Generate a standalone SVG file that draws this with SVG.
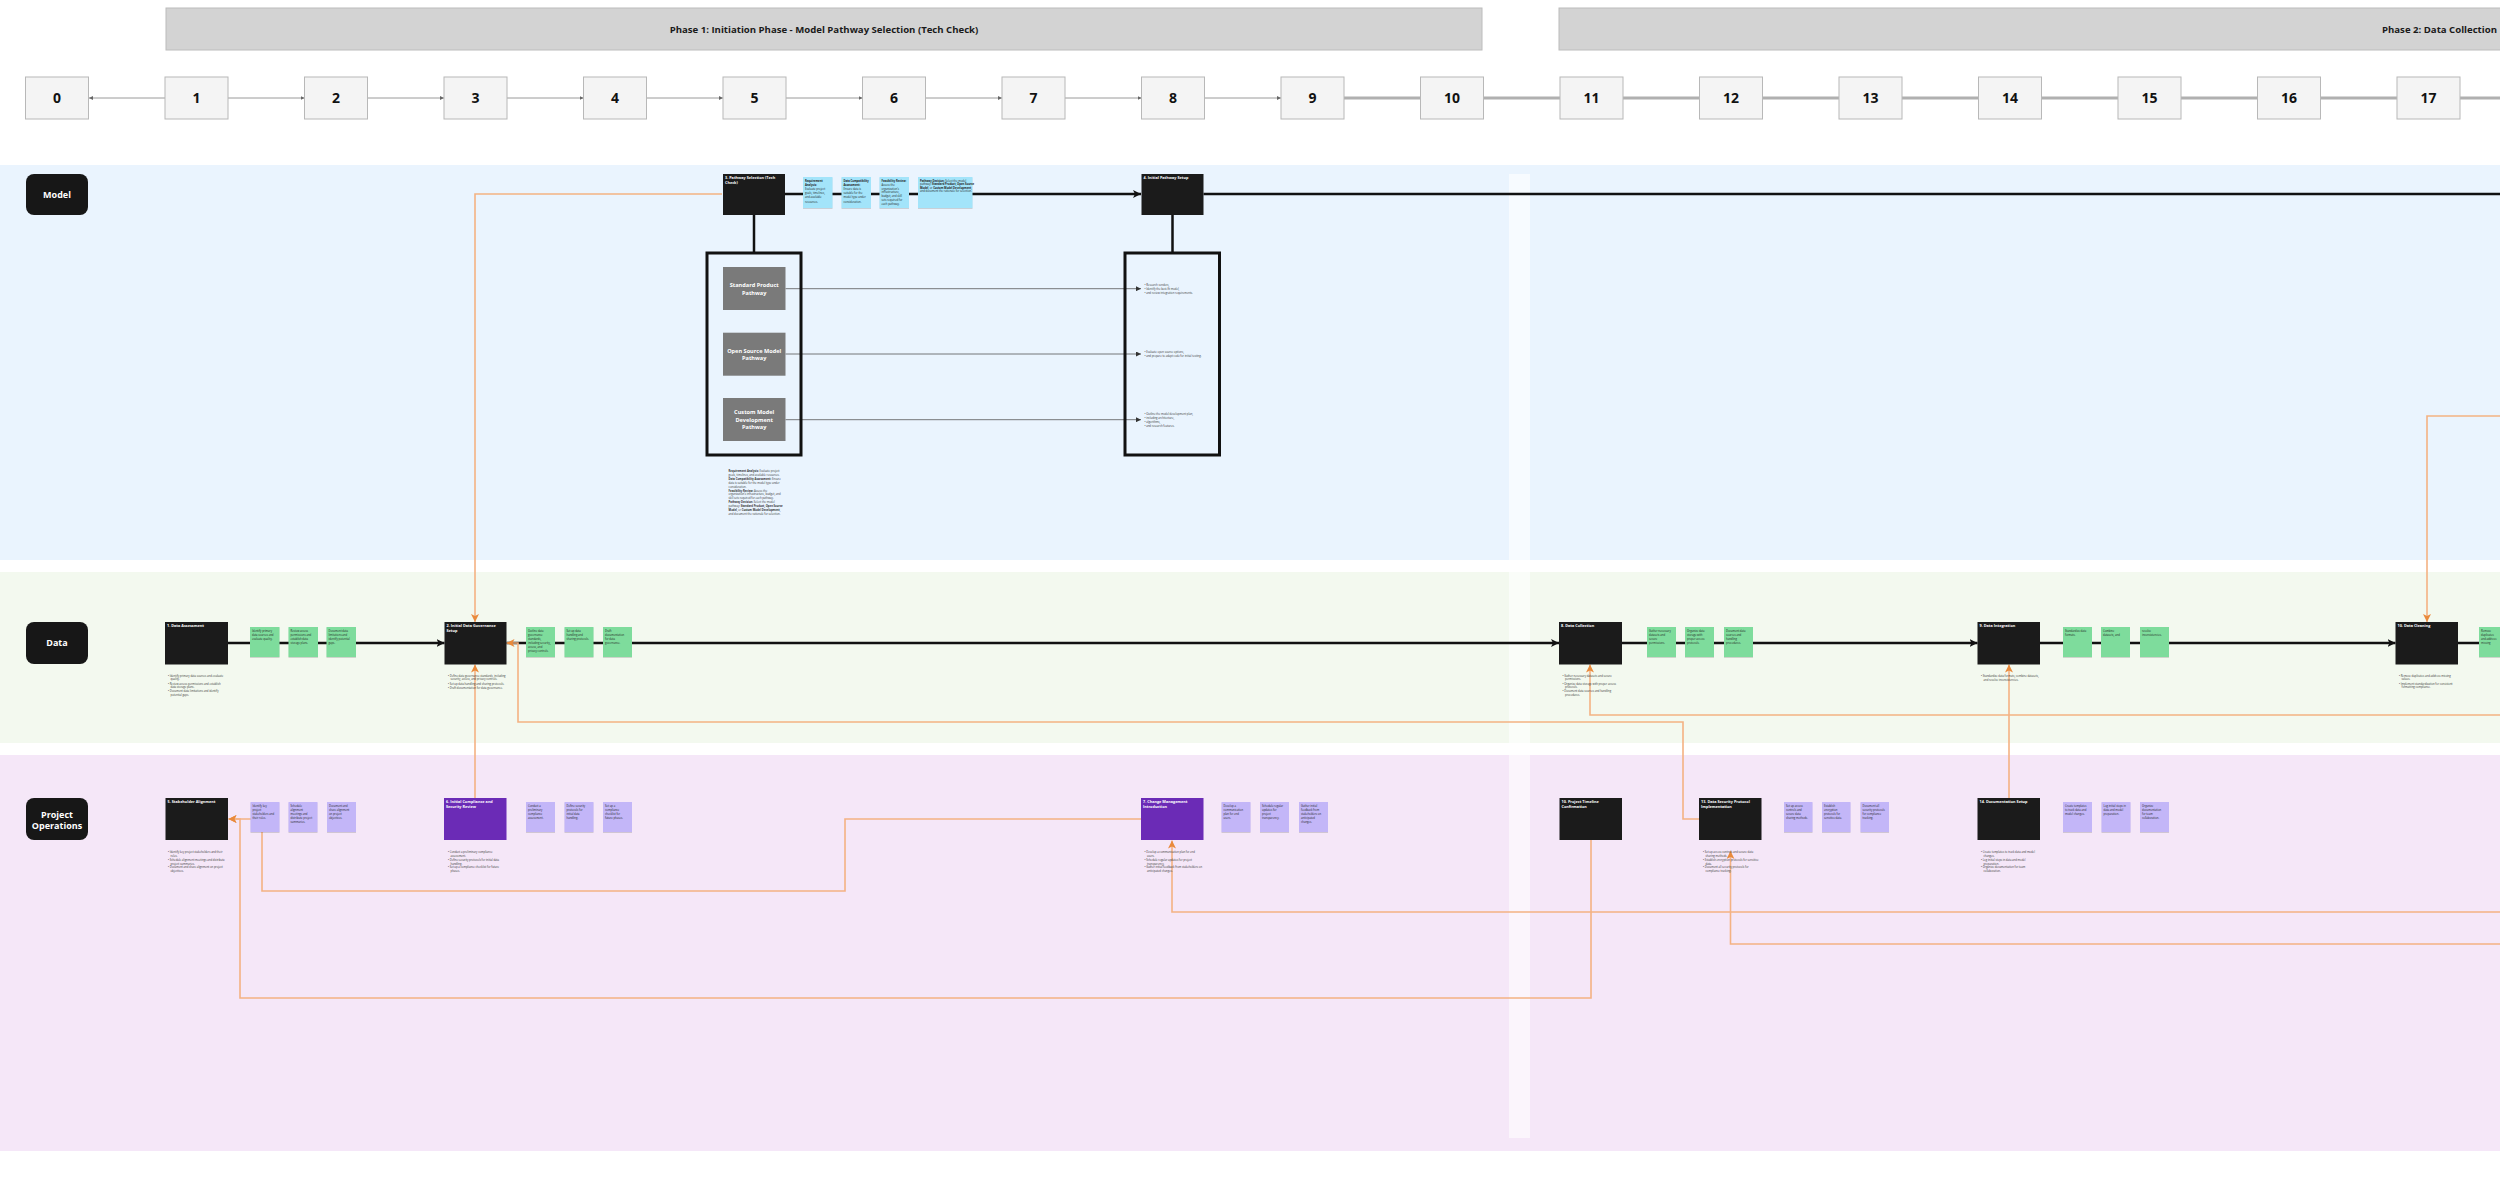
<svg xmlns="http://www.w3.org/2000/svg" width="2500" height="1184" viewBox="0 0 2500 1184">
<style>
text{font-family:'Open Sans','Liberation Sans',sans-serif}
.hdr{fill:#d3d3d3;stroke:#bcbcbc;stroke-width:1}
.ht{font-weight:700;font-size:9.6px;fill:#1a1a1a}
.nb{fill:#f4f4f4;stroke:#b8b8b8;stroke-width:1}
.nt{font-weight:700;font-size:14px;fill:#111;text-anchor:middle}
.lbl{fill:#171717}
.lt{font-weight:700;font-size:9px;fill:#fff;text-anchor:middle}
.n{fill:#1b1b1b}
.np{fill:#6b2bb6}
.tt{font-weight:700;font-size:3.8px;fill:#fff}
.sg{fill:#7edc9c;filter:url(#sh)}
.sb{fill:#a3e4fa;filter:url(#sh)}
.sp{fill:#c3b6f8;filter:url(#sh)}
.st{font-size:2.7px;fill:#222}
.bu{font-size:2.7px;fill:#333}
.b{font-weight:700}
.gp{fill:#7a7a7a}
.gt{font-weight:700;font-size:5.6px;fill:#fff;text-anchor:middle}
.thick{stroke:#111;stroke-width:2.5;fill:none}
.or{stroke:#f4b283;stroke-width:1.6;fill:none}
.thin{stroke:#9a9a9a;stroke-width:1;fill:none}
.tg{stroke:#b0b0b0;stroke-width:3;fill:none}
.pl{stroke:#555;stroke-width:0.8;fill:none}
.frame{fill:none;stroke:#111;stroke-width:3}
</style>
<defs>
<filter id="sh" x="-10%" y="-10%" width="120%" height="130%"><feDropShadow dx="0" dy="1" stdDeviation="0.7" flood-color="#000" flood-opacity="0.15"/></filter>
<marker id="ab" viewBox="0 0 10 10" refX="10" refY="5" markerWidth="8" markerHeight="8" markerUnits="userSpaceOnUse" orient="auto"><path d="M0,0 L10,5 L0,10 L2.5,5 z" fill="#111"/></marker>
<marker id="ao" viewBox="0 0 10 10" refX="10" refY="5" markerWidth="8" markerHeight="8" markerUnits="userSpaceOnUse" orient="auto"><path d="M0,0 L10,5 L0,10 L2.5,5 z" fill="#e98a3c"/></marker>
<marker id="ag" viewBox="0 0 10 10" refX="10" refY="5" markerWidth="4" markerHeight="4" markerUnits="userSpaceOnUse" orient="auto"><path d="M0,0 L10,5 L0,10 z" fill="#666"/></marker>
<marker id="ad" viewBox="0 0 10 10" refX="10" refY="5" markerWidth="5" markerHeight="5" markerUnits="userSpaceOnUse" orient="auto"><path d="M0,0 L10,5 L0,10 z" fill="#333"/></marker>
</defs>
<rect width="2500" height="1184" fill="#ffffff"/>

<!-- lanes -->
<g id="lanes">
<rect x="0" y="165" width="2500" height="395" fill="#eaf4fe"/>
<rect x="0" y="572" width="2500" height="171" fill="#f3f9ef"/>
<rect x="0" y="755" width="2500" height="396" fill="#f5e7f8"/>
<rect x="1509" y="174" width="21" height="964" fill="#ffffff" opacity="0.6"/>
</g>

<!-- header -->
<g id="header">
<rect class="hdr" x="166" y="8" width="1316" height="42"/>
<text class="ht" x="824" y="32.5" text-anchor="middle">Phase 1: Initiation Phase - Model Pathway Selection (Tech Check)</text>
<rect class="hdr" x="1559" y="8" width="1000" height="42"/>
<text class="ht" x="2382" y="32.5">Phase 2: Data Collection</text>
</g>

<g id="timeline-connectors">
<path class="thin" d="M165,98 H89" marker-end="url(#ag)"/>
<path class="thin" d="M228,98 H304.5" marker-end="url(#ag)"/>
<path class="thin" d="M367.5,98 H444" marker-end="url(#ag)"/>
<path class="thin" d="M507,98 H583.5" marker-end="url(#ag)"/>
<path class="thin" d="M646.5,98 H723" marker-end="url(#ag)"/>
<path class="thin" d="M786,98 H862.5" marker-end="url(#ag)"/>
<path class="thin" d="M925.5,98 H1002" marker-end="url(#ag)"/>
<path class="thin" d="M1065,98 H1141.5" marker-end="url(#ag)"/>
<path class="thin" d="M1204.5,98 H1281" marker-end="url(#ag)"/>
<path class="tg" d="M1344,98 H2500"/>
</g>

<g id="timeline">
<g id="t0"><rect class="nb" x="25.5" y="77" width="63" height="42"/><text class="nt" x="57" y="103">0</text></g>
<g id="t1"><rect class="nb" x="165" y="77" width="63" height="42"/><text class="nt" x="196.5" y="103">1</text></g>
<g id="t2"><rect class="nb" x="304.5" y="77" width="63" height="42"/><text class="nt" x="336" y="103">2</text></g>
<g id="t3"><rect class="nb" x="444" y="77" width="63" height="42"/><text class="nt" x="475.5" y="103">3</text></g>
<g id="t4"><rect class="nb" x="583.5" y="77" width="63" height="42"/><text class="nt" x="615" y="103">4</text></g>
<g id="t5"><rect class="nb" x="723" y="77" width="63" height="42"/><text class="nt" x="754.5" y="103">5</text></g>
<g id="t6"><rect class="nb" x="862.5" y="77" width="63" height="42"/><text class="nt" x="894" y="103">6</text></g>
<g id="t7"><rect class="nb" x="1002" y="77" width="63" height="42"/><text class="nt" x="1033.5" y="103">7</text></g>
<g id="t8"><rect class="nb" x="1141.5" y="77" width="63" height="42"/><text class="nt" x="1173" y="103">8</text></g>
<g id="t9"><rect class="nb" x="1281" y="77" width="63" height="42"/><text class="nt" x="1312.5" y="103">9</text></g>
<g id="t10"><rect class="nb" x="1420.5" y="77" width="63" height="42"/><text class="nt" x="1452" y="103">10</text></g>
<g id="t11"><rect class="nb" x="1560" y="77" width="63" height="42"/><text class="nt" x="1591.5" y="103">11</text></g>
<g id="t12"><rect class="nb" x="1699.5" y="77" width="63" height="42"/><text class="nt" x="1731" y="103">12</text></g>
<g id="t13"><rect class="nb" x="1839" y="77" width="63" height="42"/><text class="nt" x="1870.5" y="103">13</text></g>
<g id="t14"><rect class="nb" x="1978.5" y="77" width="63" height="42"/><text class="nt" x="2010" y="103">14</text></g>
<g id="t15"><rect class="nb" x="2118" y="77" width="63" height="42"/><text class="nt" x="2149.5" y="103">15</text></g>
<g id="t16"><rect class="nb" x="2257.5" y="77" width="63" height="42"/><text class="nt" x="2289" y="103">16</text></g>
<g id="t17"><rect class="nb" x="2397" y="77" width="63" height="42"/><text class="nt" x="2428.5" y="103">17</text></g>
</g>

<!-- lane labels -->
<g id="lane-model"><rect class="lbl" x="26" y="174" width="62" height="41" rx="8"/><text class="lt" x="57" y="197.5">Model</text></g>
<g id="lane-data"><rect class="lbl" x="26" y="622" width="62" height="42" rx="8"/><text class="lt" x="57" y="646">Data</text></g>
<g id="lane-ops"><rect class="lbl" x="26" y="798" width="62" height="42" rx="8"/><text class="lt" x="57" y="817.5">Project</text><text class="lt" x="57" y="828.5">Operations</text></g>

<!-- connectors -->
<g id="connectors">
<path class="thick" d="M785,194 H1141" marker-end="url(#ab)"/>
<path class="thick" d="M1203.5,194 H2500"/>
<path class="thick" d="M754,215 V253"/>
<path class="thick" d="M1172.5,215 V253"/>
<path class="pl" d="M785.5,288.7 H1141" marker-end="url(#ad)"/>
<path class="pl" d="M785.5,354 H1141" marker-end="url(#ad)"/>
<path class="pl" d="M785.5,419.7 H1141" marker-end="url(#ad)"/>
<path class="thick" d="M228,643 H444.5" marker-end="url(#ab)"/>
<path class="thick" d="M506.5,643 H1559" marker-end="url(#ab)"/>
<path class="thick" d="M1622,643 H1977.5" marker-end="url(#ab)"/>
<path class="thick" d="M2040,643 H2395.5" marker-end="url(#ab)"/>
<path class="thick" d="M2458,643 H2500"/>
<path class="or" d="M722,194 H475 V622" marker-end="url(#ao)"/>
<path class="or" d="M475,798 V664.5" marker-end="url(#ao)"/>
<path class="or" d="M1699,819 H1683 V722 H518 V643 H506.5" marker-end="url(#ao)"/>
<path class="or" d="M2500,715 H1590 V664.5" marker-end="url(#ao)"/>
<path class="or" d="M2009,798 V664.5" marker-end="url(#ao)"/>
<path class="or" d="M2500,416 H2427 V622" marker-end="url(#ao)"/>
<path class="or" d="M1141,819 H845 V891 H262 V819 H228.5" marker-end="url(#ao)"/>
<path class="or" d="M1591,840 V998 H240 V819 H228.5" marker-end="url(#ao)"/>
<path class="or" d="M2500,912 H1172 V840.5" marker-end="url(#ao)"/>
<path class="or" d="M2500,944 H1730.5 V851" marker-end="url(#ao)"/>
</g>

<!-- MODEL LANE -->
<g id="m3">
<rect class="n" x="723" y="174" width="62" height="41"/>
<text class="tt" x="725" y="179">3. Pathway Selection (Tech</text>
<text class="tt" x="725" y="184">Check)</text>
</g>
<g id="m3-notes">
<rect class="sb" x="803" y="177" width="29.5" height="31"/>
<text class="st" x="805" y="182"><tspan class="b">Requirement</tspan><tspan class="b" x="805" dy="4.1">Analysis:</tspan><tspan x="805" dy="4.1">Evaluate project</tspan><tspan x="805" dy="4.1">goals, timelines,</tspan><tspan x="805" dy="4.1">and available</tspan><tspan x="805" dy="4.1">resources.</tspan></text>
<rect class="sb" x="841.5" y="177" width="29.5" height="31"/>
<text class="st" x="843.5" y="182"><tspan class="b">Data Compatibility</tspan><tspan class="b" x="843.5" dy="4.1">Assessment:</tspan><tspan x="843.5" dy="4.1">Ensure data is</tspan><tspan x="843.5" dy="4.1">suitable for the</tspan><tspan x="843.5" dy="4.1">model type under</tspan><tspan x="843.5" dy="4.1">consideration.</tspan></text>
<rect class="sb" x="879.5" y="177" width="29.5" height="31"/>
<text class="st" x="881.5" y="182"><tspan class="b">Feasibility Review:</tspan><tspan x="881.5" dy="3.8">Assess the</tspan><tspan x="881.5" dy="3.8">organization's</tspan><tspan x="881.5" dy="3.8">infrastructure,</tspan><tspan x="881.5" dy="3.8">budget, and skill</tspan><tspan x="881.5" dy="3.8">sets required for</tspan><tspan x="881.5" dy="3.8">each pathway.</tspan></text>
<rect class="sb" x="918" y="177" width="54.5" height="31"/>
<text class="st" x="920" y="182"><tspan class="b">Pathway Decision:</tspan> Select the model<tspan x="920" dy="3.3">pathway: </tspan><tspan class="b">Standard Product, Open Source</tspan><tspan class="b" x="920" dy="3.3">Model</tspan>, or <tspan class="b">Custom Model Development</tspan>,<tspan x="920" dy="3.3">and document the rationale for selection.</tspan></text>
</g>

<g id="m3-options">
<rect class="frame" x="707" y="253" width="94" height="202"/>
<g id="opt-standard"><rect class="gp" x="723" y="267" width="62.5" height="43"/><text class="gt" x="754.2" y="287">Standard Product</text><text class="gt" x="754.2" y="294.5">Pathway</text></g>
<g id="opt-open"><rect class="gp" x="723" y="332.7" width="62.5" height="43"/><text class="gt" x="754.2" y="352.5">Open Source Model</text><text class="gt" x="754.2" y="360">Pathway</text></g>
<g id="opt-custom"><rect class="gp" x="723" y="398" width="62.5" height="43"/><text class="gt" x="754.2" y="414.2">Custom Model</text><text class="gt" x="754.2" y="421.7">Development</text><text class="gt" x="754.2" y="429.2">Pathway</text></g>
</g>
<g id="m3-summary">
<text class="bu" x="728.6" y="472"><tspan class="b">Requirement Analysis:</tspan> Evaluate project<tspan x="728.6" dy="3.9">goals, timelines, and available resources.</tspan><tspan class="b" x="728.6" dy="3.9">Data Compatibility Assessment:</tspan> Ensure<tspan x="728.6" dy="3.9">data is suitable for the model type under</tspan><tspan x="728.6" dy="3.9">consideration.</tspan><tspan class="b" x="728.6" dy="3.9">Feasibility Review:</tspan> Assess the<tspan x="728.6" dy="3.9">organization's infrastructure, budget, and</tspan><tspan x="728.6" dy="3.9">skill sets required for each pathway.</tspan><tspan class="b" x="728.6" dy="3.9">Pathway Decision:</tspan> Select the model<tspan x="728.6" dy="3.9">pathway: </tspan><tspan class="b">Standard Product, Open Source</tspan><tspan class="b" x="728.6" dy="3.9">Model</tspan>, or <tspan class="b">Custom Model Development</tspan>,<tspan x="728.6" dy="3.9">and document the rationale for selection.</tspan></text>
</g>

<g id="m4">
<rect class="n" x="1141.5" y="174" width="62" height="41"/>
<text class="tt" x="1143.5" y="179">4. Initial Pathway Setup</text>
</g>
<g id="m4-setup">
<rect class="frame" x="1125" y="253" width="94.5" height="202"/>
<text class="bu" x="1144.5" y="285.5">•  Research vendors,<tspan x="1144.5" dy="4">•  Identify the best-fit model,</tspan><tspan x="1144.5" dy="4">•  and review integration requirements.</tspan></text>
<text class="bu" x="1144.5" y="353.3">•  Evaluate open source options,<tspan x="1144.5" dy="3.8">•  and prepare to adapt code for initial testing.</tspan></text>
<text class="bu" x="1144.5" y="415">•  Outline the model development plan,<tspan x="1144.5" dy="4">•  including architecture,</tspan><tspan x="1144.5" dy="4">•  algorithms,</tspan><tspan x="1144.5" dy="4">•  and research features.</tspan></text>
</g>

<!-- DATA LANE -->
<g id="d1">
<rect class="n" x="165" y="622" width="63" height="42.5"/>
<text class="tt" x="167" y="627">1. Data Assessment</text>
<text class="bu" x="168" y="677">•  Identify primary data sources and evaluate<tspan x="170.5" dy="3.3">quality.</tspan><tspan x="168" dy="4.4">•  Review access permissions and establish</tspan><tspan x="170.5" dy="3.3">data storage plans.</tspan><tspan x="168" dy="4.4">•  Document data limitations and identify</tspan><tspan x="170.5" dy="3.3">potential gaps.</tspan></text>
</g>
<g id="d1-notes">
<rect class="sg" x="250" y="627" width="29.5" height="30"/>
<text class="st" x="252" y="631.5">Identify primary<tspan x="252" dy="4.1">data sources and</tspan><tspan x="252" dy="4.1">evaluate quality.</tspan></text>
<rect class="sg" x="288.5" y="627" width="29.5" height="30"/>
<text class="st" x="290.5" y="631.5">Review access<tspan x="290.5" dy="4.1">permissions and</tspan><tspan x="290.5" dy="4.1">establish data</tspan><tspan x="290.5" dy="4.1">storage plans.</tspan></text>
<rect class="sg" x="326.5" y="627" width="29.5" height="30"/>
<text class="st" x="328.5" y="631.5">Document data<tspan x="328.5" dy="4.1">limitations and</tspan><tspan x="328.5" dy="4.1">identify potential</tspan><tspan x="328.5" dy="4.1">gaps.</tspan></text>
</g>

<g id="d2">
<rect class="n" x="444.5" y="622" width="62" height="42.5"/>
<text class="tt" x="446.5" y="627">2. Initial Data Governance</text>
<text class="tt" x="446.5" y="632">Setup</text>
<text class="bu" x="448" y="677">•  Define data governance standards, including<tspan x="450.5" dy="3.3">security, access, and privacy controls.</tspan><tspan x="448" dy="4.2">•  Set up data handling and sharing protocols.</tspan><tspan x="448" dy="4">•  Draft documentation for data governance.</tspan></text>
</g>
<g id="d2-notes">
<rect class="sg" x="526" y="627" width="29" height="30"/>
<text class="st" x="528" y="631.5">Outline data<tspan x="528" dy="4.1">governance</tspan><tspan x="528" dy="4.1">standards,</tspan><tspan x="528" dy="4.1">including security,</tspan><tspan x="528" dy="4.1">access, and</tspan><tspan x="528" dy="4.1">privacy controls.</tspan></text>
<rect class="sg" x="564.5" y="627" width="29" height="30"/>
<text class="st" x="566.5" y="631.5">Set up data<tspan x="566.5" dy="4.1">handling and</tspan><tspan x="566.5" dy="4.1">sharing protocols.</tspan></text>
<rect class="sg" x="603" y="627" width="29" height="30"/>
<text class="st" x="605" y="631.5">Draft<tspan x="605" dy="4.1">documentation</tspan><tspan x="605" dy="4.1">for data</tspan><tspan x="605" dy="4.1">governance.</tspan></text>
</g>

<g id="d8">
<rect class="n" x="1559" y="622" width="63" height="42.5"/>
<text class="tt" x="1561" y="627">8. Data Collection</text>
<text class="bu" x="1562.5" y="677">•  Gather necessary datasets and secure<tspan x="1565" dy="3.3">permissions.</tspan><tspan x="1562.5" dy="4.4">•  Organize data storage with proper access</tspan><tspan x="1565" dy="3.3">protocols.</tspan><tspan x="1562.5" dy="4.4">•  Document data sources and handling</tspan><tspan x="1565" dy="3.3">procedures.</tspan></text>
</g>
<g id="d8-notes">
<rect class="sg" x="1647" y="627" width="29" height="30"/>
<text class="st" x="1649" y="631.5">Gather necessary<tspan x="1649" dy="4.1">datasets and</tspan><tspan x="1649" dy="4.1">secure</tspan><tspan x="1649" dy="4.1">permissions.</tspan></text>
<rect class="sg" x="1685" y="627" width="29" height="30"/>
<text class="st" x="1687" y="631.5">Organize data<tspan x="1687" dy="4.1">storage with</tspan><tspan x="1687" dy="4.1">proper access</tspan><tspan x="1687" dy="4.1">protocols.</tspan></text>
<rect class="sg" x="1724" y="627" width="29" height="30"/>
<text class="st" x="1726" y="631.5">Document data<tspan x="1726" dy="4.1">sources and</tspan><tspan x="1726" dy="4.1">handling</tspan><tspan x="1726" dy="4.1">procedures.</tspan></text>
</g>

<g id="d9">
<rect class="n" x="1977.5" y="622" width="62.5" height="42.5"/>
<text class="tt" x="1979.5" y="627">9. Data Integration</text>
<text class="bu" x="1981" y="677">•  Standardize data formats, combine datasets,<tspan x="1983.5" dy="3.8">and resolve inconsistencies.</tspan></text>
</g>
<g id="d9-notes">
<rect class="sg" x="2063" y="627" width="29" height="30"/>
<text class="st" x="2065" y="631.5">Standardize data<tspan x="2065" dy="4.1">formats.</tspan></text>
<rect class="sg" x="2101" y="627" width="29" height="30"/>
<text class="st" x="2103" y="631.5">Combine<tspan x="2103" dy="4.1">datasets, and</tspan></text>
<rect class="sg" x="2140" y="627" width="29" height="30"/>
<text class="st" x="2142" y="631.5">resolve<tspan x="2142" dy="4.1">inconsistencies.</tspan></text>
</g>

<g id="d10">
<rect class="n" x="2395.5" y="622" width="62.5" height="42.5"/>
<text class="tt" x="2397.5" y="627">10. Data Cleaning</text>
<text class="bu" x="2399" y="677">•  Remove duplicates and address missing<tspan x="2401.5" dy="3.3">values.</tspan><tspan x="2399" dy="4.4">•  Implement standardization for consistent</tspan><tspan x="2401.5" dy="3.3">formatting compliance.</tspan></text>
</g>
<g id="d10-notes">
<rect class="sg" x="2479" y="627" width="29" height="30"/>
<text class="st" x="2481" y="631.5">Remove<tspan x="2481" dy="4.1">duplicates</tspan><tspan x="2481" dy="4.1">and address</tspan><tspan x="2481" dy="4.1">missing</tspan></text>
</g>

<!-- PROJECT OPERATIONS LANE -->
<g id="p5">
<rect class="n" x="165.5" y="798" width="62.5" height="42"/>
<text class="tt" x="167.5" y="803">5. Stakeholder Alignment</text>
<text class="bu" x="168" y="853">•  Identify key project stakeholders and their<tspan x="170.5" dy="3.8">roles.</tspan><tspan x="168" dy="3.9">•  Schedule alignment meetings and distribute</tspan><tspan x="170.5" dy="3.8">project summaries.</tspan><tspan x="168" dy="3.9">•  Document and share alignment on project</tspan><tspan x="170.5" dy="3.8">objectives.</tspan></text>
</g>
<g id="p5-notes">
<rect class="sp" x="250.5" y="802" width="29" height="30"/>
<text class="st" x="252.5" y="807">Identify key<tspan x="252.5" dy="4">project</tspan><tspan x="252.5" dy="4">stakeholders and</tspan><tspan x="252.5" dy="4">their roles.</tspan></text>
<rect class="sp" x="288.5" y="802" width="29" height="30"/>
<text class="st" x="290.5" y="807">Schedule<tspan x="290.5" dy="4">alignment</tspan><tspan x="290.5" dy="4">meetings and</tspan><tspan x="290.5" dy="4">distribute project</tspan><tspan x="290.5" dy="4">summaries.</tspan></text>
<rect class="sp" x="327" y="802" width="29" height="30"/>
<text class="st" x="329" y="807">Document and<tspan x="329" dy="4">share alignment</tspan><tspan x="329" dy="4">on project</tspan><tspan x="329" dy="4">objectives.</tspan></text>
</g>

<g id="p6">
<rect class="np" x="444" y="798" width="62.5" height="42"/>
<text class="tt" x="446" y="803">6. Initial Compliance and</text>
<text class="tt" x="446" y="808">Security Review</text>
<text class="bu" x="448" y="853">•  Conduct a preliminary compliance<tspan x="450.5" dy="3.8">assessment.</tspan><tspan x="448" dy="3.9">•  Define security protocols for initial data</tspan><tspan x="450.5" dy="3.8">handling.</tspan><tspan x="448" dy="3.9">•  Set up a compliance checklist for future</tspan><tspan x="450.5" dy="3.8">phases.</tspan></text>
</g>
<g id="p6-notes">
<rect class="sp" x="526" y="802" width="29" height="30"/>
<text class="st" x="528" y="807">Conduct a<tspan x="528" dy="4">preliminary</tspan><tspan x="528" dy="4">compliance</tspan><tspan x="528" dy="4">assessment.</tspan></text>
<rect class="sp" x="564.5" y="802" width="29" height="30"/>
<text class="st" x="566.5" y="807">Define security<tspan x="566.5" dy="4">protocols for</tspan><tspan x="566.5" dy="4">initial data</tspan><tspan x="566.5" dy="4">handling.</tspan></text>
<rect class="sp" x="603" y="802" width="29" height="30"/>
<text class="st" x="605" y="807">Set up a<tspan x="605" dy="4">compliance</tspan><tspan x="605" dy="4">checklist for</tspan><tspan x="605" dy="4">future phases.</tspan></text>
</g>

<g id="p7">
<rect class="np" x="1141" y="798" width="62.5" height="42"/>
<text class="tt" x="1143" y="803">7. Change Management</text>
<text class="tt" x="1143" y="808">Introduction</text>
<text class="bu" x="1144.5" y="853">•  Develop a communication plan for end<tspan x="1147" dy="3.8">users.</tspan><tspan x="1144.5" dy="3.9">•  Schedule regular updates for project</tspan><tspan x="1147" dy="3.8">transparency.</tspan><tspan x="1144.5" dy="3.9">•  Gather initial feedback from stakeholders on</tspan><tspan x="1147" dy="3.8">anticipated changes.</tspan></text>
</g>
<g id="p7-notes">
<rect class="sp" x="1221.5" y="802" width="29" height="30"/>
<text class="st" x="1223.5" y="807">Develop a<tspan x="1223.5" dy="4">communication</tspan><tspan x="1223.5" dy="4">plan for end</tspan><tspan x="1223.5" dy="4">users.</tspan></text>
<rect class="sp" x="1260" y="802" width="29" height="30"/>
<text class="st" x="1262" y="807">Schedule regular<tspan x="1262" dy="4">updates for</tspan><tspan x="1262" dy="4">project</tspan><tspan x="1262" dy="4">transparency.</tspan></text>
<rect class="sp" x="1299" y="802" width="29" height="30"/>
<text class="st" x="1301" y="807">Gather initial<tspan x="1301" dy="4">feedback from</tspan><tspan x="1301" dy="4">stakeholders on</tspan><tspan x="1301" dy="4">anticipated</tspan><tspan x="1301" dy="4">changes.</tspan></text>
</g>

<g id="p10">
<rect class="n" x="1559.5" y="798" width="62.5" height="42"/>
<text class="tt" x="1561.5" y="803">10. Project Timeline</text>
<text class="tt" x="1561.5" y="808">Confirmation</text>
</g>

<g id="p13">
<rect class="n" x="1699" y="798" width="62.5" height="42"/>
<text class="tt" x="1701" y="803">13. Data Security Protocol</text>
<text class="tt" x="1701" y="808">Implementation</text>
<text class="bu" x="1703" y="853">•  Set up access controls and secure data<tspan x="1705.5" dy="3.8">sharing methods.</tspan><tspan x="1703" dy="3.9">•  Establish encryption protocols for sensitive</tspan><tspan x="1705.5" dy="3.8">data.</tspan><tspan x="1703" dy="3.9">•  Document all security protocols for</tspan><tspan x="1705.5" dy="3.8">compliance tracking.</tspan></text>
</g>
<g id="p13-notes">
<rect class="sp" x="1784" y="802" width="28.5" height="30"/>
<text class="st" x="1786" y="807">Set up access<tspan x="1786" dy="4">controls and</tspan><tspan x="1786" dy="4">secure data</tspan><tspan x="1786" dy="4">sharing methods.</tspan></text>
<rect class="sp" x="1822" y="802" width="28.5" height="30"/>
<text class="st" x="1824" y="807">Establish<tspan x="1824" dy="4">encryption</tspan><tspan x="1824" dy="4">protocols for</tspan><tspan x="1824" dy="4">sensitive data.</tspan></text>
<rect class="sp" x="1860.5" y="802" width="28.5" height="30"/>
<text class="st" x="1862.5" y="807">Document all<tspan x="1862.5" dy="4">security protocols</tspan><tspan x="1862.5" dy="4">for compliance</tspan><tspan x="1862.5" dy="4">tracking.</tspan></text>
</g>

<g id="p14">
<rect class="n" x="1977.5" y="798" width="62.5" height="42"/>
<text class="tt" x="1979.5" y="803">14. Documentation Setup</text>
<text class="bu" x="1981" y="853">•  Create templates to track data and model<tspan x="1983.5" dy="3.8">changes.</tspan><tspan x="1981" dy="3.9">•  Log initial steps in data and model</tspan><tspan x="1983.5" dy="3.8">preparation.</tspan><tspan x="1981" dy="3.9">•  Organize documentation for team</tspan><tspan x="1983.5" dy="3.8">collaboration.</tspan></text>
</g>
<g id="p14-notes">
<rect class="sp" x="2063" y="802" width="29" height="30"/>
<text class="st" x="2065" y="807">Create templates<tspan x="2065" dy="4">to track data and</tspan><tspan x="2065" dy="4">model changes.</tspan></text>
<rect class="sp" x="2101.5" y="802" width="29" height="30"/>
<text class="st" x="2103.5" y="807">Log initial steps in<tspan x="2103.5" dy="4">data and model</tspan><tspan x="2103.5" dy="4">preparation.</tspan></text>
<rect class="sp" x="2140" y="802" width="29" height="30"/>
<text class="st" x="2142" y="807">Organize<tspan x="2142" dy="4">documentation</tspan><tspan x="2142" dy="4">for team</tspan><tspan x="2142" dy="4">collaboration.</tspan></text>
</g>
</svg>
